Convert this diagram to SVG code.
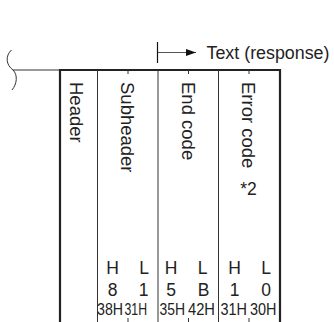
<svg xmlns="http://www.w3.org/2000/svg" width="334" height="322" viewBox="0 0 334 322">
<style>
.t{font-family:"Liberation Sans",Arial,sans-serif;fill:#222;}
.v{font-size:18.5px;}
.h{font-size:17.5px;text-anchor:middle;}
.c{font-size:16.5px;}
.thin{stroke:#333;stroke-width:1;fill:none;}
.thick{stroke:#222;stroke-width:2.2;fill:none;}
</style>
<defs>
<marker id="arr" viewBox="0 0 10 10" refX="10" refY="5" markerWidth="10" markerHeight="10" markerUnits="userSpaceOnUse" orient="auto">
<path d="M0,1.5 L10,5 L0,8.5 Z" fill="#111"/>
</marker>
</defs>
<rect width="334" height="322" fill="#fff"/>
<g id="connectors">
<path class="thin" d="M11.5,50 C5,56 6,65 13,70 C18,75 17,84 12,90"/>
<line class="thin" x1="13" y1="70" x2="60" y2="70"/>
<line x1="157.5" y1="42" x2="157.5" y2="63" stroke="#111" stroke-width="1.2"/>
<line x1="158" y1="52.5" x2="196" y2="52.5" stroke="#555" stroke-width="1" marker-end="url(#arr)"/>
<text class="t" x="206.5" y="58.5" font-size="18" textLength="123" lengthAdjust="spacingAndGlyphs">Text (response)</text>
</g>
<g id="frame">
<line class="thick" x1="59" y1="70" x2="281" y2="70"/>
<line class="thick" x1="60" y1="69" x2="60" y2="322"/>
<line class="thick" x1="280" y1="69" x2="280" y2="322"/>
<line class="thin" x1="97.5" y1="70" x2="97.5" y2="322"/>
<line class="thin" x1="158" y1="70" x2="158" y2="322"/>
<line class="thin" x1="218.5" y1="70" x2="218.5" y2="322"/>
<line class="thin" x1="128" y1="70" x2="128" y2="74"/>
<line class="thin" x1="188.5" y1="70" x2="188.5" y2="74"/>
<line class="thin" x1="249" y1="70" x2="249" y2="74"/>
<line class="thin" x1="128" y1="318" x2="128" y2="322"/>
<line class="thin" x1="188.5" y1="318" x2="188.5" y2="322"/>
<line class="thin" x1="249" y1="318" x2="249" y2="322"/>
</g>
<g id="header">
<text class="t v" transform="translate(70,82) rotate(90)">Header</text>
</g>
<g id="subheader">
<text class="t v" transform="translate(120.5,82) rotate(90)">Subheader</text>
<text class="t h" x="112.5" y="274">H</text>
<text class="t h" x="144" y="274">L</text>
<text class="t h" x="112.5" y="296">8</text>
<text class="t h" x="143.5" y="296">1</text>
<text class="t c" x="97" y="315" textLength="26" lengthAdjust="spacingAndGlyphs">38H</text>
<text class="t c" x="124.5" y="315" textLength="22.5" lengthAdjust="spacingAndGlyphs">31H</text>
</g>
<g id="endcode">
<text class="t v" transform="translate(181.5,82) rotate(90)">End code</text>
<text class="t h" x="171" y="274">H</text>
<text class="t h" x="202.5" y="274">L</text>
<text class="t h" x="171" y="296">5</text>
<text class="t h" x="203.5" y="296">B</text>
<text class="t c" x="159.5" y="315" textLength="25.5" lengthAdjust="spacingAndGlyphs">35H</text>
<text class="t c" x="188" y="315" textLength="27" lengthAdjust="spacingAndGlyphs">42H</text>
</g>
<g id="errorcode">
<text class="t v" transform="translate(241.5,82) rotate(90)">Error code</text>
<text class="t h" x="248.5" y="195">*2</text>
<text class="t h" x="234.5" y="274">H</text>
<text class="t h" x="266" y="274">L</text>
<text class="t h" x="234.5" y="296">1</text>
<text class="t h" x="266" y="296">0</text>
<text class="t c" x="220.5" y="315" textLength="26.5" lengthAdjust="spacingAndGlyphs">31H</text>
<text class="t c" x="250" y="315" textLength="26.5" lengthAdjust="spacingAndGlyphs">30H</text>
</g>
</svg>
